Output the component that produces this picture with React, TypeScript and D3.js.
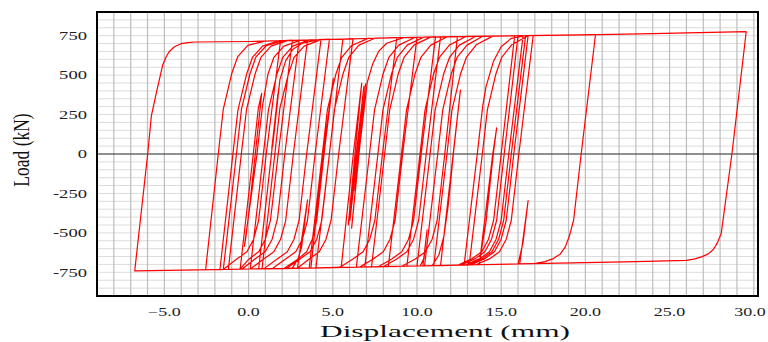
import React from "react";
import * as d3 from "d3";

// tick values
const xTicks = [-5, 0, 5, 10, 15, 20, 25, 30];
const yTicks = [-750, -500, -250, 0, 250, 500, 750];

// hysteresis trace, [displacement (mm), load (kN)] in order
const cyclesB: [number, number][] = [
  [-2.55, -734], [-1.8, 0], [-1.5, 285], [-1.0, 510], [-0.65, 615], [-0.05, 688], [0.95, 715], [1.9, 718],
  [1.05, 0], [0.6, -420], [0.3, -540], [-0.1, -620], [-0.7, -665], [-1.5, -732],
  [-1.7, -733], [-0.93, 0], [-0.63, 280], [-0.12, 505], [0.23, 612], [0.83, 684], [1.8, 718], [3.0, 721],
  [2.15, 0], [1.72, -410], [1.4, -540], [1.0, -618], [0.4, -664], [-0.4, -730],
  [-1.2, -731], [-0.43, 0], [-0.12, 282], [0.38, 505], [0.73, 612], [1.33, 684], [2.3, 719], [3.5, 722],
  [2.66, 0], [2.2, -425], [1.9, -540], [1.5, -620], [0.9, -666], [0.1, -729],
  [-1.5, -732], [-0.72, 0], [-0.42, 285], [0.08, 507], [0.43, 614], [1.05, 686], [2.05, 718], [2.6, 720],
  [1.76, 0], [1.3, -420], [1.0, -540], [0.6, -620], [0.0, -668], [-0.5, -730],
  [0.28, 0], [0.58, 290], [0.78, 385], [0.42, 20], [0.05, -340], [-0.15, -520], [-0.25, -585],
  [0.5, 0], [0.82, 300], [1.15, 505], [1.5, 612], [2.1, 684], [3.1, 721], [4.3, 725],
  [3.45, 0], [3.0, -420], [2.7, -540], [2.3, -620], [1.7, -666], [0.9, -728],
  [0.1, -729], [0.88, 0], [1.18, 280], [1.68, 505], [2.03, 612], [2.63, 684], [3.6, 723], [4.8, 727],
  [3.95, 0], [3.5, -420], [3.2, -540], [2.8, -620], [2.2, -666], [1.4, -727],
  [0.6, -728], [1.36, 0], [1.74, 380], [1.38, 35], [1.79, 415], [1.43, 50], [1.86, 470], [2.2, 590], [2.62, 662], [3.2, 703], [4.2, 725], [5.6, 729],
  [4.8, 0], [4.35, -420], [4.05, -540], [3.65, -620], [3.05, -665], [2.25, -726],
  [0.8, -728], [1.56, 0], [1.86, 290], [2.36, 505], [2.7, 612], [3.3, 684], [4.3, 725], [6.2, 730],
  [5.35, 0], [4.9, -420], [4.6, -540], [4.2, -620], [3.6, -666], [2.9, -724],
  [3.5, -291], [3.15, -590], [2.95, -660], [2.6, -725],
];

const cyclesC: [number, number][] = [
  [3.6, -723], [4.38, 0], [4.68, 280], [5.18, 505], [5.53, 612], [6.13, 688], [7.1, 733], [8.8, 737],
  [7.95, 0], [7.5, -420], [7.2, -540], [6.8, -620], [6.2, -665], [5.4, -719],
  [4.0, -722], [4.8, 0], [5.1, 285], [5.6, 505], [5.95, 612], [6.55, 690], [7.5, 734], [10.0, 740],
  [9.15, 0], [8.7, -420], [8.4, -540], [8.0, -620], [7.4, -665], [6.6, -717],
  [3.7, -723], [4.42, 0], [5.03, 480], [4.46, -20], [4.05, -420], [3.78, -540], [3.45, -620], [2.9, -668], [2.1, -726],
  [5.5, -719], [6.22, 0], [6.72, 450], [5.92, -450], [6.85, 430], [6.02, -420], [6.95, 445], [6.12, -470], [6.8, 260], [6.3, -230], [7.05, 455], [7.35, 565], [7.72, 650], [8.2, 702], [9.2, 738], [11.1, 742],
  [10.25, 0], [9.8, -420], [9.5, -540], [9.1, -620], [8.5, -665], [7.7, -715],
  [6.4, -717], [7.18, 0], [7.48, 280], [7.98, 505], [8.33, 612], [8.92, 690], [9.9, 740], [11.4, 743],
  [10.55, 0], [10.1, -420], [9.8, -540], [9.4, -620], [8.8, -665], [8.0, -714],
  [6.9, -716], [7.68, 0], [7.98, 280], [8.48, 505], [8.83, 612], [9.42, 690], [10.4, 741], [12.4, 744],
  [11.65, 0], [11.2, -420], [10.9, -540], [10.5, -620], [9.9, -665], [9.1, -712],
  [7.3, -716], [8.08, 0], [8.38, 280], [8.88, 505], [9.23, 612], [9.82, 690], [10.8, 741], [15.8, 749],
  [15.0, 0], [14.55, -420], [14.25, -540], [13.85, -620], [13.25, -664], [12.45, -704],
  [8.3, -713], [9.08, 0], [9.38, 280], [9.88, 505], [10.23, 612], [10.82, 690], [11.8, 743], [16.0, 749],
  [15.18, 0], [14.73, -420], [14.43, -540], [14.03, -620], [13.43, -665], [12.6, -704],
  [10.35, -709], [10.6, -481], [10.42, -660], [10.2, -709],
];

const cyclesDE: [number, number][] = [
  [9.4, -711], [10.18, 0], [10.48, 280], [10.98, 505], [11.33, 612], [11.92, 690], [12.9, 745], [16.3, 750],
  [15.45, 0], [15.0, -420], [14.7, -540], [14.3, -620], [13.7, -665], [12.9, -703],
  [10.0, -710], [10.78, 0], [11.08, 280], [11.58, 505], [11.93, 612], [12.52, 690], [13.5, 746], [16.6, 750],
  [15.75, 0], [15.3, -420], [15.0, -540], [14.6, -620], [14.0, -665], [13.2, -703],
  [10.45, -709], [11.23, 0], [11.53, 280], [12.03, 505], [12.38, 612], [12.97, 690], [13.9, 746], [16.9, 751],
  [16.05, 0], [15.6, -420], [15.3, -540], [14.9, -620], [14.3, -665], [13.5, -702],
  [11.4, -707], [12.15, 0], [12.58, 405], [12.2, 40], [11.85, -330], [11.6, -520], [11.3, -640], [10.9, -708],
  [11.0, -707], [11.78, 0], [12.08, 280], [12.58, 505], [12.93, 612], [13.52, 692], [14.5, 747], [20.6, 756],
  [19.75, 0], [19.3, -420], [19.05, -520], [18.8, -590], [18.5, -635], [18.1, -663], [17.6, -682], [17.0, -694],
  [16.1, -697], [16.6, -296], [16.3, -560], [16.0, -697],
  [13.7, -702], [14.5, 0], [14.73, 165], [14.52, -10], [14.1, -430], [13.9, -560], [13.7, -702],
  [12.8, -704], [13.58, 0], [13.9, 300], [14.1, 427], [14.55, 590], [15.0, 680], [15.6, 733], [16.45, 750],
  [15.6, 0], [15.15, -420], [14.85, -540], [14.45, -620], [13.85, -665], [13.05, -703],
];

const finalLoop: [number, number][] = [
  [13.1, -703], [13.88, 0], [14.18, 280], [14.68, 505], [15.03, 612], [15.62, 692], [16.6, 750], [20.0, 755], [24.0, 763], [29.55, 775],
  [28.7, 0], [28.07, -502], [27.85, -560], [27.6, -605], [27.3, -633], [26.9, -652], [26.5, -665], [26.0, -674],
  [23.0, -682], [20.0, -688], [16.0, -697], [12.0, -705], [8.0, -714], [4.0, -722], [0.0, -729], [-3.0, -734], [-6.76, -741],
  [-5.99, 0], [-5.77, 243], [-5.45, 400], [-5.1, 564], [-4.9, 615], [-4.72, 648], [-4.4, 680], [-4.01, 699], [-3.6, 706], [-3.18, 710],
  [0.0, 713], [5.0, 727], [10.0, 740], [15.0, 748], [20.0, 755],
];

const W = 768;
const H = 342;
const margin = { top: 12, right: 10, bottom: 46, left: 97 };

export default function App() {
  const x = d3.scaleLinear().domain([-9, 30.25]).range([margin.left, W - margin.right]);
  const y = d3.scaleLinear().domain([-900, 900]).range([H - margin.bottom, margin.top]);
  const trace = [...cyclesB, ...cyclesC, ...cyclesDE, ...finalLoop];
  const line = d3.line<[number, number]>().x((d) => x(d[0])).y((d) => y(d[1]));

  const vGrid = d3.range(-9, 31).filter((v) => v <= 30.25);
  const hGrid = d3.range(-900, 901, 50);
  const fmt = d3.format(".1f");
  const font = "'Liberation Serif', 'Times New Roman', serif";

  return (
    <div style={{ position: "absolute", left: 0, top: 0, width: W, height: H, background: "#fff" }}>
      <svg width={W} height={H} style={{ display: "block" }}>
        <g>
          {hGrid.map((v) => (
            <line key={"h" + v} x1={margin.left} x2={W - margin.right} y1={y(v)} y2={y(v)} stroke="#dcdcdc" strokeWidth={1} />
          ))}
          {vGrid.map((v) => (
            <line key={"v" + v} x1={x(v)} x2={x(v)} y1={margin.top} y2={H - margin.bottom} stroke="#bdbdbd" strokeWidth={1.2} />
          ))}
        </g>
        <line x1={margin.left} x2={W - margin.right} y1={y(0)} y2={y(0)} stroke="#333" strokeWidth={1} />
        <path d={line(trace) || ""} fill="none" stroke="#ff0000" strokeWidth={1.2} strokeLinejoin="round" />
        <rect
          x={margin.left}
          y={margin.top}
          width={W - margin.right - margin.left}
          height={H - margin.bottom - margin.top}
          fill="none"
          stroke="#000"
          strokeWidth={2}
        />
        {yTicks.map((v) => (
          <text
            key={"yt" + v}
            transform={`translate(87,${y(v) + 4.3}) scale(1.55,1)`}
            textAnchor="end"
            fontFamily={font}
            fontSize={12}
            fill="#222"
          >
            {v}
          </text>
        ))}
        {xTicks.map((v) => (
          <text
            key={"xt" + v}
            transform={`translate(${Math.min(x(v), 750)},315.5) scale(1.5,1)`}
            textAnchor="middle"
            fontFamily={font}
            fontSize={12}
            fill="#222"
          >
            {fmt(v)}
          </text>
        ))}
        <text
          x={445}
          y={337}
          textAnchor="middle"
          fontFamily={font}
          fontSize={17}
          textLength={250}
          lengthAdjust="spacingAndGlyphs"
          fill="#111"
        >
          Displacement (mm)
        </text>
        <text
          transform="translate(29,150) scale(1.3,1) rotate(-90)"
          textAnchor="middle"
          fontFamily={font}
          fontSize={17.5}
          fill="#111"
        >
          Load (kN)
        </text>
      </svg>
    </div>
  );
}
